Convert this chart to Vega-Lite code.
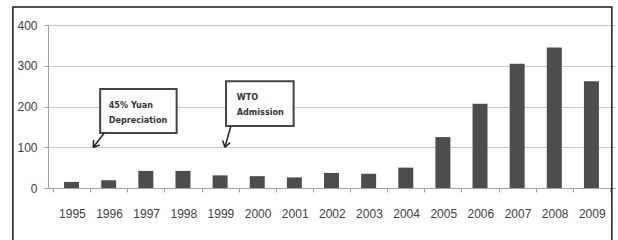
{
  "$schema": "https://vega.github.io/schema/vega-lite/v6.json",
  "width": 567,
  "height": 163,
  "autosize": "none",
  "padding": {"left": 48, "top": 25, "right": 3, "bottom": 52},
  "background": "white",
  "config": {"view": {"stroke": null}, "font": "Liberation Sans"},
  "datasets": {
    "bars": [
      {"x": 1995, "y": 15},
      {"x": 1996, "y": 19},
      {"x": 1997, "y": 42},
      {"x": 1998, "y": 42},
      {"x": 1999, "y": 31},
      {"x": 2000, "y": 29},
      {"x": 2001, "y": 26},
      {"x": 2002, "y": 37},
      {"x": 2003, "y": 35},
      {"x": 2004, "y": 50},
      {"x": 2005, "y": 125},
      {"x": 2006, "y": 207},
      {"x": 2007, "y": 305},
      {"x": 2008, "y": 345},
      {"x": 2009, "y": 262}
    ],
    "frame": [{"x": 1993.42, "x1": 2009.55, "y": -140, "y1": 444}],
    "boxes": [
      {"x": 1995.77, "x1": 1997.83, "y": 135, "y1": 243},
      {"x": 1999.16, "x1": 2000.98, "y": 152, "y1": 262}
    ],
    "labels": [
      {"x": 1996.0, "y": 204, "text": "45% Yuan"},
      {"x": 1996.0, "y": 167, "text": "Depreciation"},
      {"x": 1999.45, "y": 224, "text": "WTO"},
      {"x": 1999.45, "y": 186, "text": "Admission"}
    ],
    "arrows": [
      {"x": 1995.88, "y": 135, "x1": 1995.585, "y1": 100},
      {"x": 1995.585, "y": 100, "x1": 1995.76, "y1": 105.5},
      {"x": 1995.585, "y": 100, "x1": 1995.595, "y1": 117.8},
      {"x": 1999.29, "y": 152, "x1": 1999.13, "y1": 100},
      {"x": 1999.13, "y": 100, "x1": 1999.27, "y1": 111.4},
      {"x": 1999.13, "y": 100, "x1": 1999.07, "y1": 116.8}
    ]
  },
  "encoding": {
    "x": {
      "field": "x",
      "type": "quantitative",
      "scale": {"domain": [1994.5, 2009.5], "nice": false, "zero": false},
      "axis": {
        "title": null,
        "values": [1994.5, 1995.5, 1996.5, 1997.5, 1998.5, 1999.5, 2000.5, 2001.5, 2002.5, 2003.5, 2004.5, 2005.5, 2006.5, 2007.5, 2008.5, 2009.5],
        "labelExpr": "datum.value > 2009 ? '' : format(datum.value + 0.5, 'd')",
        "labelOffset": 18.9,
        "labelFlush": false,
        "labelOverlap": false,
        "labelBound": false,
        "labelFontSize": 12,
        "labelColor": "#404040",
        "labelPadding": 16,
        "tickSize": 4,
        "tickColor": "#a0a0a0",
        "domainColor": "#a0a0a0",
        "grid": false
      }
    },
    "y": {
      "field": "y",
      "type": "quantitative",
      "scale": {"domain": [0, 400], "nice": false},
      "axis": {
        "title": null,
        "values": [0, 100, 200, 300, 400],
        "grid": true,
        "gridColor": "#c6c6c6",
        "domainColor": "#a0a0a0",
        "tickColor": "#a0a0a0",
        "tickSize": 4,
        "labelPadding": 7,
        "labelFontSize": 12,
        "labelColor": "#404040"
      }
    }
  },
  "layer": [
    {
      "data": {"name": "bars"},
      "mark": {"type": "bar", "color": "#4d4d4d", "width": 15}
    },
    {
      "data": {"name": "frame"},
      "mark": {"type": "rect", "fill": null, "stroke": "#1a1a1a", "strokeWidth": 1.5, "clip": false},
      "encoding": {"x2": {"field": "x1"}, "y2": {"field": "y1"}}
    },
    {
      "data": {"name": "boxes"},
      "mark": {"type": "rect", "fill": "white", "stroke": "#444444", "strokeWidth": 2},
      "encoding": {"x2": {"field": "x1"}, "y2": {"field": "y1"}}
    },
    {
      "data": {"name": "labels"},
      "mark": {"type": "text", "align": "left", "baseline": "middle", "font": "DejaVu Sans Condensed, Liberation Sans", "fontWeight": "bold", "fontSize": 9, "color": "#333333"},
      "encoding": {"text": {"field": "text"}}
    },
    {
      "data": {"name": "arrows"},
      "mark": {"type": "rule", "color": "#222222", "strokeWidth": 1.5},
      "encoding": {"x2": {"field": "x1"}, "y2": {"field": "y1"}}
    }
  ]
}
